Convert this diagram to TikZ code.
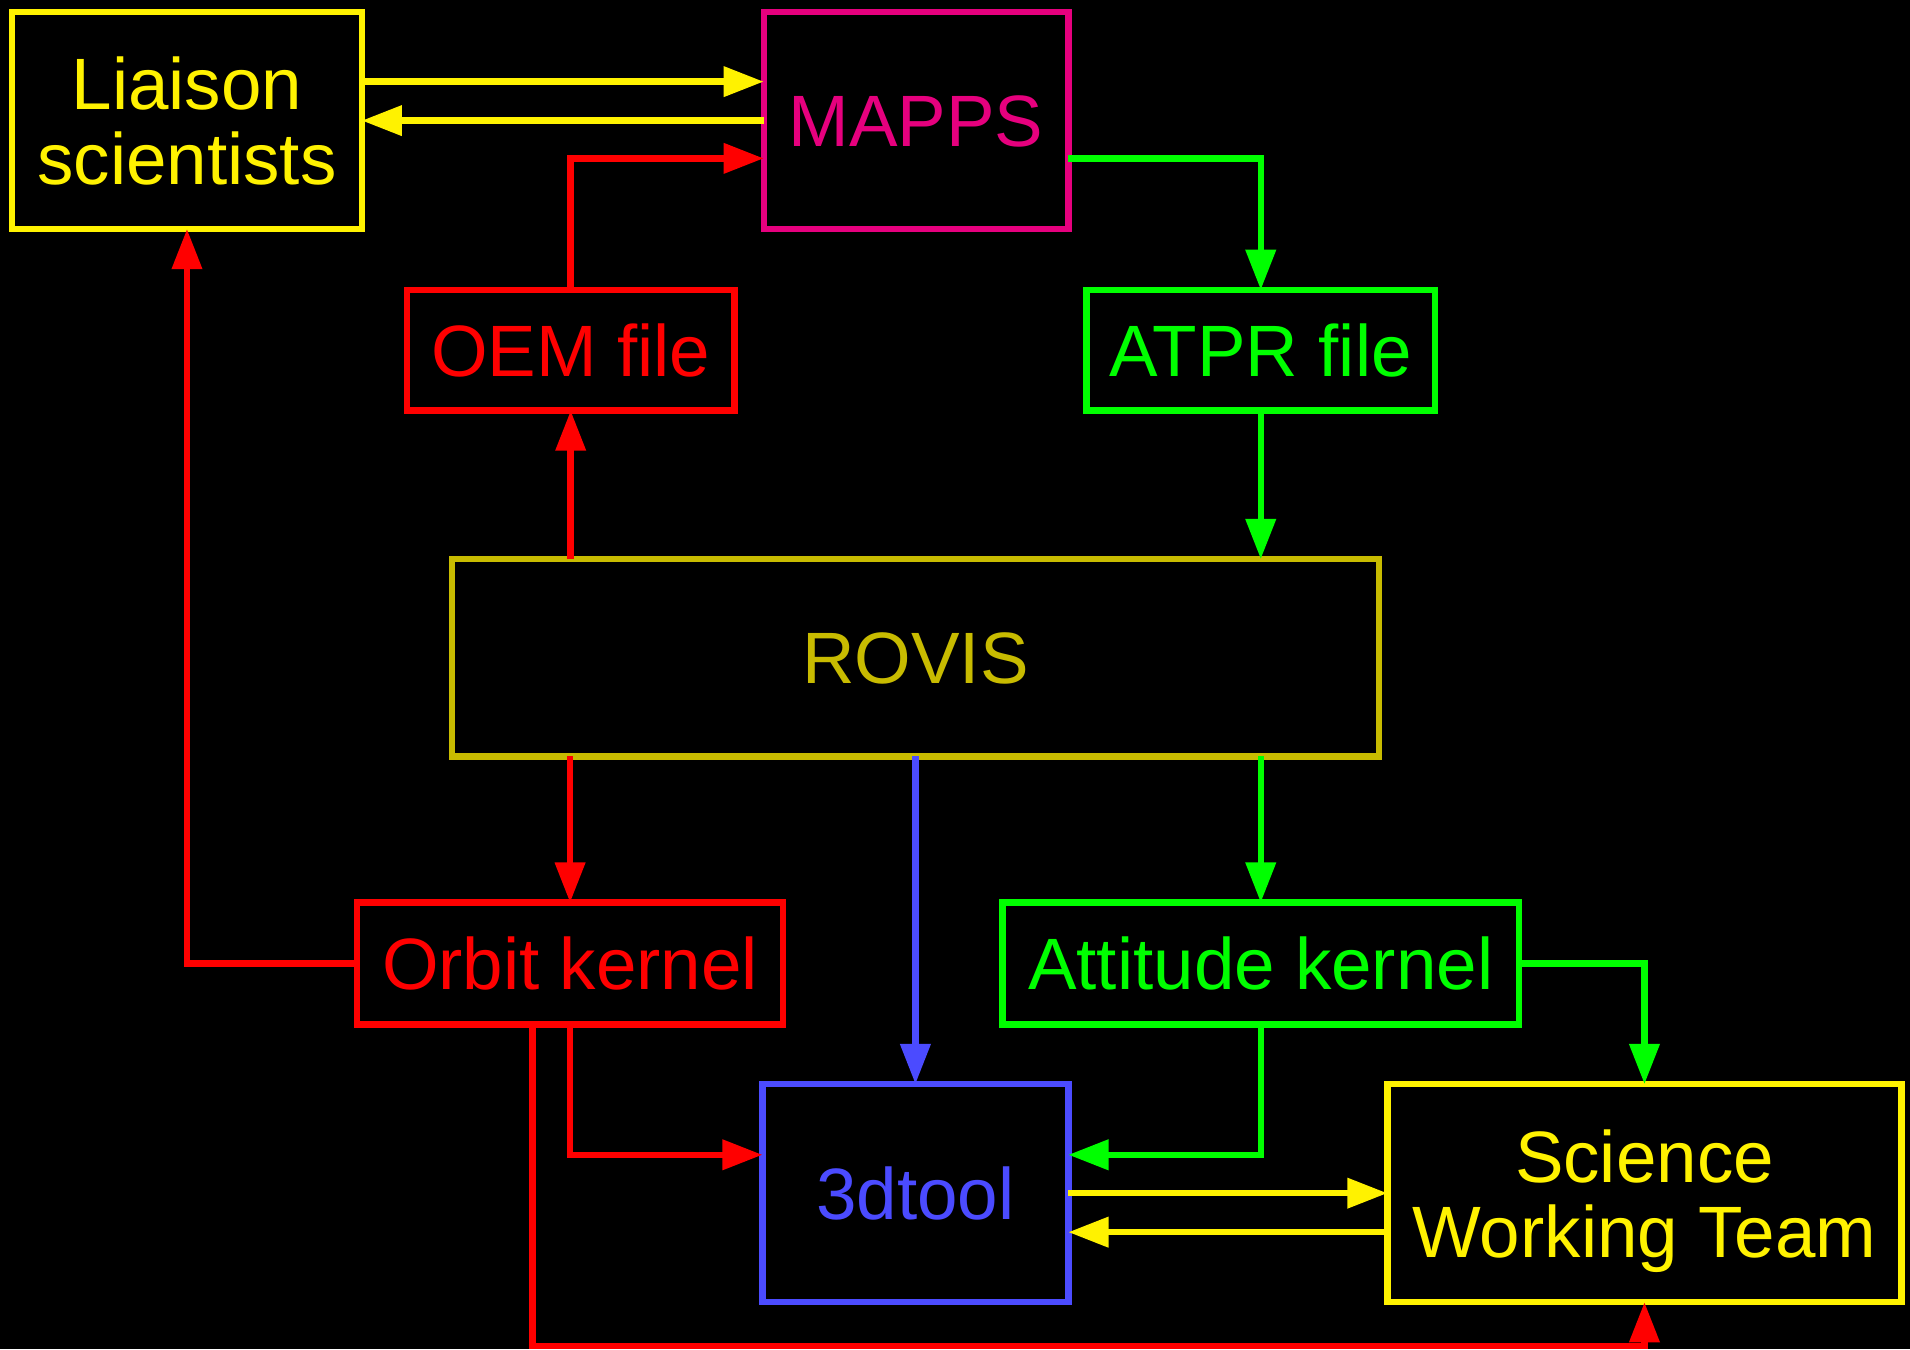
\documentclass[tikz,border=0pt]{standalone}
\usepackage{fontspec}
\setmainfont{Liberation Sans}
\usetikzlibrary{arrows.meta,positioning}
\definecolor{liaisonyellow}{RGB}{255,242,0}
\definecolor{mappspink}{RGB}{230,0,126}
\definecolor{rovisolive}{RGB}{200,187,0}
\definecolor{toolblue}{RGB}{75,75,255}
\definecolor{kernelgreen}{RGB}{0,255,0}
\definecolor{kernelred}{RGB}{255,0,0}
\begin{document}
\begin{tikzpicture}[
 box/.style={draw=#1,text=#1,line width=1.5pt,inner sep=0pt,outer sep=0pt,text depth=0pt,align=center,font=\fontsize{17}{17.5}\selectfont},
 link/.style={draw=#1,line width=1.5pt,-{Triangle[length=0.33cm,width=0.24cm]}}]
 \fill[black] (0,0) rectangle (15.68,-11.075);
 \useasboundingbox (0,0) rectangle (15.68,-11.075);
 \node[box=liaisonyellow,minimum width=2.87cm,minimum height=1.78cm] (liaison) at (1.535,-0.99) {Liaison\\scientists};
 \node[box=mappspink,minimum width=2.50cm,minimum height=1.78cm] (mapps) at (7.52,-0.99) {MAPPS};
 \node[box=kernelred,minimum width=2.69cm,minimum height=0.99cm] (oem) at (4.685,-2.875) {OEM file};
 \node[box=kernelgreen,minimum width=2.86cm,minimum height=0.99cm] (atpr) at (10.35,-2.875) {ATPR file};
 \node[box=rovisolive,minimum width=7.61cm,minimum height=1.62cm] (rovis) at (7.515,-5.40) {ROVIS};
 \node[box=kernelred,minimum width=3.50cm,minimum height=1.00cm] (orbit) at (4.68,-7.91) {Orbit kernel};
 \node[box=kernelgreen,minimum width=4.24cm,minimum height=1.00cm] (attitude) at (10.35,-7.91) {Attitude kernel};
 \node[box=toolblue,minimum width=2.51cm,minimum height=1.79cm] (tool) at (7.515,-9.795) {3dtool};
 \node[box=liaisonyellow,minimum width=4.22cm,minimum height=1.79cm] (swt) at (13.50,-9.795) {Science\\Working Team};
 \coordinate (bottom) at (7.5,-11.05);

 \draw[link=liaisonyellow] ([yshift=0.32cm]liaison.east) -- ([yshift=0.32cm]mapps.west);
 \draw[link=liaisonyellow] (mapps.west) -- (liaison.east);
 \draw[link=kernelred] (oem.north) |- ([yshift=-0.31cm]mapps.west);
 \draw[link=kernelgreen] ([yshift=-0.31cm]mapps.east) -| (atpr.north);
 \draw[link=kernelgreen] (atpr.south) -- (atpr.south |- rovis.north);
 \draw[link=kernelred] (oem.south |- rovis.north) -- (oem.south);
 \draw[link=kernelred] (orbit.north |- rovis.south) -- (orbit.north);
 \draw[link=toolblue] (rovis.south) -- (tool.north);
 \draw[link=kernelgreen] (attitude.north |- rovis.south) -- (attitude.north);
 \draw[link=kernelred] (orbit.west) -| (liaison.south);
 \draw[link=kernelred] (orbit.south) |- ([yshift=0.315cm]tool.west);
 \draw[link=kernelred] ([xshift=-0.31cm]orbit.south) |- (bottom) -| (swt.south);
 \draw[link=kernelgreen] (attitude.south) |- ([yshift=0.315cm]tool.east);
 \draw[link=kernelgreen] (attitude.east) -| (swt.north);
 \draw[link=liaisonyellow] (tool.east) -- (swt.west);
 \draw[link=liaisonyellow] ([yshift=-0.32cm]swt.west) -- ([yshift=-0.32cm]tool.east);
\end{tikzpicture}
\end{document}
